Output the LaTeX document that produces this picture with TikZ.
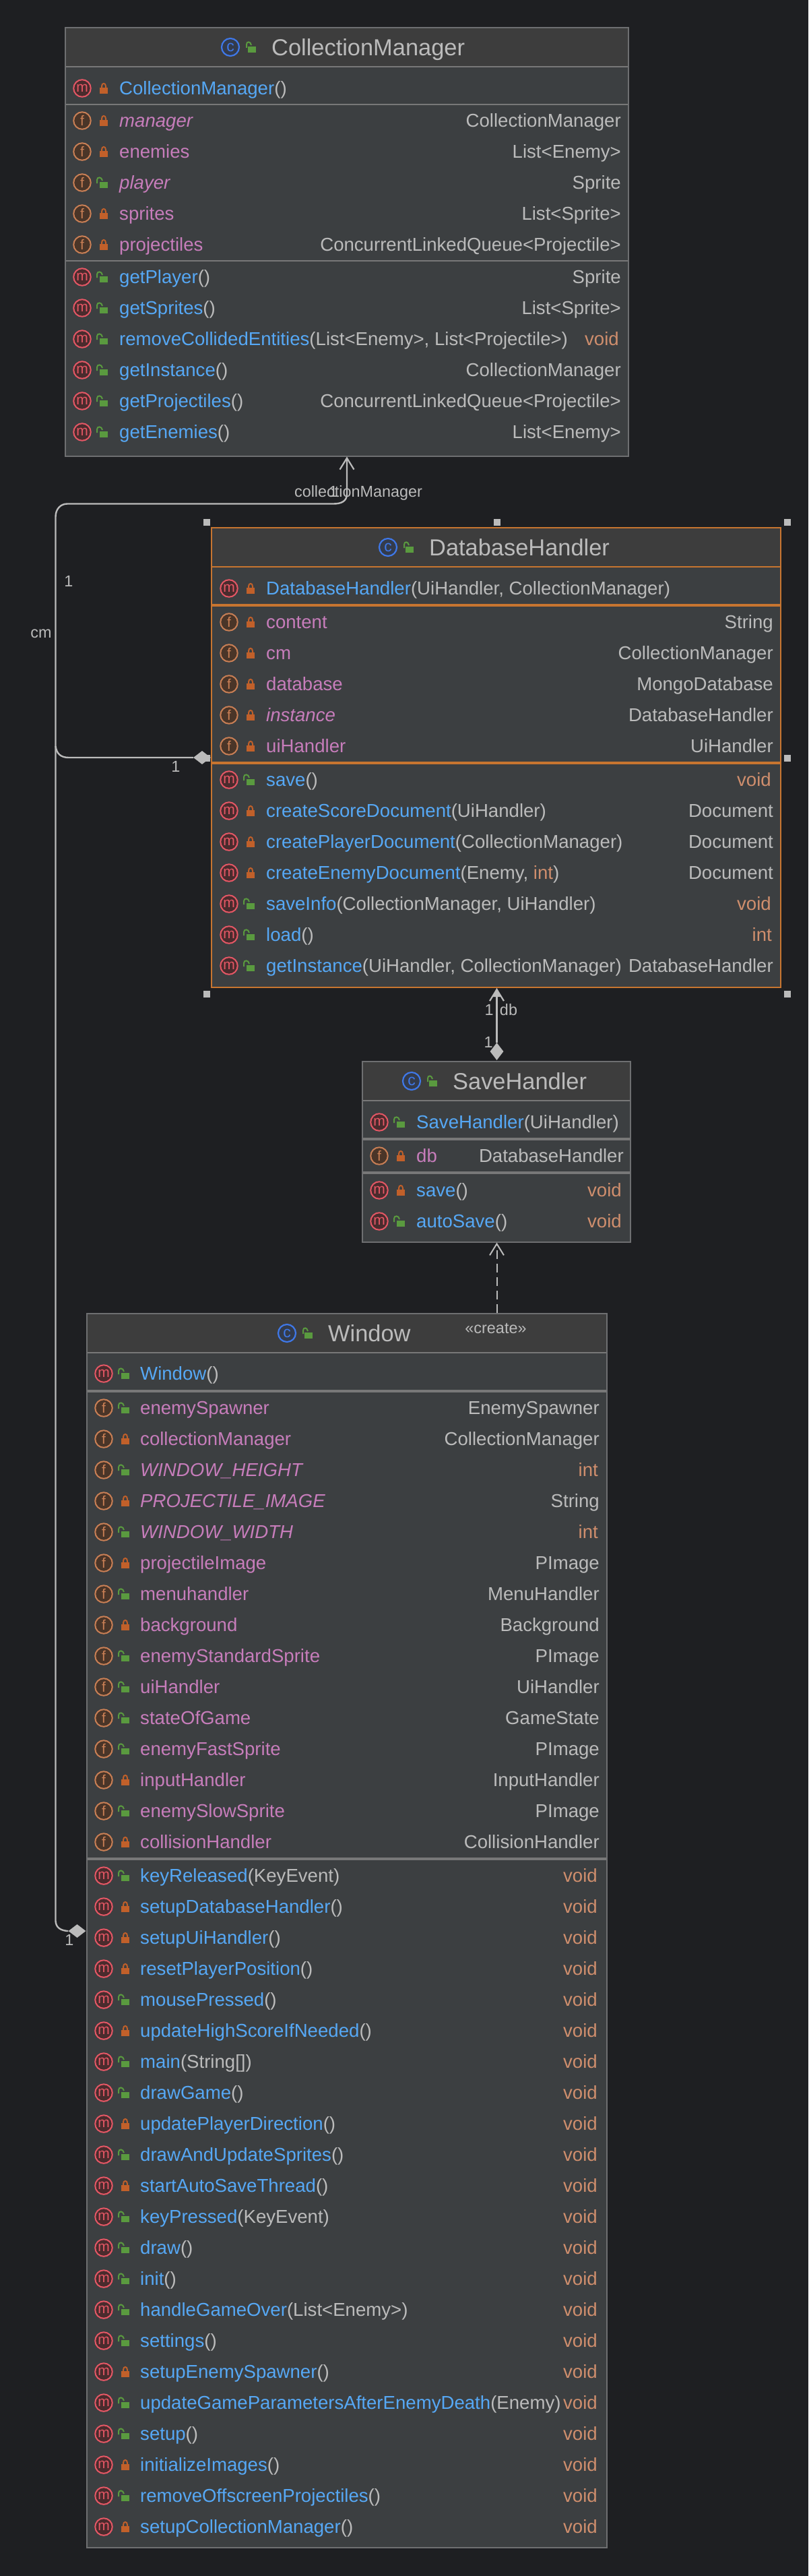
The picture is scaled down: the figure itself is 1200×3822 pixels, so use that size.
\documentclass[tikz,border=0pt]{standalone}
\usepackage{fontspec}
\setmainfont{Liberation Sans}
\usetikzlibrary{arrows.meta,shapes.geometric}
\definecolor{bgc}{HTML}{1E1F22}
\definecolor{bodyc}{HTML}{3C3F41}
\definecolor{hdrc}{HTML}{3D3D3D}
\definecolor{edgec}{HTML}{6E6F71}
\definecolor{sepc}{HTML}{787878}
\definecolor{selc}{HTML}{C77530}
\definecolor{txtc}{HTML}{BBBBBB}
\definecolor{methc}{HTML}{56A8F5}
\definecolor{fieldc}{HTML}{C77DBB}
\definecolor{voidc}{HTML}{CF8E6D}
\definecolor{lockoc}{HTML}{C1602A}
\definecolor{lockgc}{HTML}{5A9A3F}
\definecolor{mred}{HTML}{E55765}
\definecolor{mredbg}{HTML}{4A2B2D}
\definecolor{ford}{HTML}{C97F55}
\definecolor{fordbg}{HTML}{4A3528}
\definecolor{cblue}{HTML}{3F78E8}
\definecolor{cbluebg}{HTML}{333B4C}
\newcommand\rfont{\fontsize{27.6pt}{30pt}\selectfont}
\newcommand\tfont{\fontsize{34.4pt}{38pt}\selectfont}
\newcommand\lfont{\fontsize{23.4pt}{26pt}\selectfont}
\tikzset{
  x=1pt,y=-1pt,
  classbox/.style={rectangle,draw=edgec,fill=bodyc,line width=1.6pt,inner sep=0pt,outer sep=0pt,anchor=north west},
  selbox/.style={classbox,draw=selc},
  hdrbox/.style={rectangle,fill=hdrc,inner sep=0pt,outer sep=0pt,anchor=north west},
  micon/.style={circle,draw=mred,fill=mredbg,line width=2pt,minimum size=25.5pt,inner sep=0pt,text=mred,font=\fontsize{21pt}{22pt}\selectfont},
  ficon/.style={circle,draw=ford,fill=fordbg,line width=2pt,minimum size=25.5pt,inner sep=0pt,text=ford,font=\fontsize{21pt}{22pt}\selectfont},
  cicon/.style={circle,draw=cblue,fill=cbluebg,line width=2.2pt,minimum size=26pt,inner sep=0pt,text=cblue,font=\fontsize{23pt}{24pt}\selectfont},
  ltext/.style={anchor=base west,inner sep=0pt,text=txtc,font=\rfont},
  rtext/.style={anchor=base east,inner sep=0pt,text=txtc,font=\rfont},
  ttext/.style={anchor=base west,inner sep=0pt,text=txtc,font=\tfont},
  lab/.style={inner sep=0pt,text=txtc,font=\lfont},
  conn/.style={draw=txtc,line width=2.4pt},
  barb/.style={-{Straight Barb[length=17pt,width=21pt,line width=2.2pt]}},
  handle/.style={rectangle,fill=txtc,minimum size=10pt,inner sep=0pt},
  dia/.style={diamond,fill=txtc,inner sep=0pt},
}
\newcount\rowno
\def\iconx{0}\def\textx{0}\def\rightx{0}
\newcommand\setcols[3]{\def\iconx{#1}\def\textx{#2}\def\rightx{#3}}
\newcommand\lockpic[3]{% x of icon, row y, kind
  \ifx#3o%
    \fill[lockoc] ({#1+26},{#2-1}) rectangle ({#1+38},{#2+8});
    \draw[lockoc,line width=2pt] ({#1+29},{#2}) -- ({#1+29},{#2-3}) .. controls ({#1+29},{#2-8.5}) and ({#1+35},{#2-8.5}) .. ({#1+35},{#2-3}) -- ({#1+35},{#2});
  \else
    \fill[lockgc] ({#1+26},{#2-1}) rectangle ({#1+38},{#2+8});
    \draw[lockgc,line width=2pt] ({#1+22},{#2+1}) -- ({#1+22},{#2-4}) .. controls ({#1+22},{#2-9}) and ({#1+29},{#2-9}) .. ({#1+30},{#2-3});
  \fi}
\newcommand\R[5]{% y, kind m/f, vis o/g, left, right
  \global\advance\rowno by 1
  \node[#2icon] (ic\the\rowno) at (\iconx,#1) {#2};
  \lockpic{\iconx}{#1}{#3}
  \node[ltext] (lt\the\rowno) at (\textx,{#1+9.5}) {#4};
  \node[rtext] (rt\the\rowno) at (\rightx,{#1+9.5}) {#5};}
\newcommand\sepl[4]{\draw[#4] (#1,#3) -- (#2,#3);}
\newcommand\titl[4]{% name, x of C, y, vis (all public)
  \global\advance\rowno by 1
  \node[cicon] (tc\the\rowno) at (#2,#3) {c};
  \fill[lockgc] ({#2+26},{#3-1}) rectangle ({#2+38},{#3+8});
  \draw[lockgc,line width=2pt] ({#2+24},{#3+1}) -- ({#2+24},{#3-4}) .. controls ({#2+24},{#3-9}) and ({#2+30},{#3-9}) .. ({#2+31},{#3-3});
  \node[ttext] (tt\the\rowno) at ({#2+61},{#3+12}) {#1};}
\newcommand\M[2]{\textcolor{methc}{#1}(#2)}
\newcommand\F[1]{\textcolor{fieldc}{#1}}
\newcommand\FI[1]{\textcolor{fieldc}{\itshape #1}}
\newcommand\vd{\textcolor{voidc}{void}\kern3pt}
\newcommand\intc{\textcolor{voidc}{int}}
\begin{document}
\begin{tikzpicture}
\useasboundingbox (0,0) rectangle (1200,3822);
\fill[bgc] (0,0) rectangle (1200,3822);

% ---------- CollectionManager
\node[classbox,minimum width=836pt,minimum height=636pt] (cmBox) at (97,41) {};
\node[hdrbox,minimum width=834pt,minimum height=57pt] (cmHdr) at (98,42) {};
\sepl{98}{932}{99}{draw=sepc,line width=2pt}
\sepl{98}{932}{155}{draw=sepc,line width=2pt}
\sepl{98}{932}{387}{draw=sepc,line width=2pt}
\titl{CollectionManager}{342}{70}{g}
\setcols{122}{177}{922}
\R{131}{m}{o}{\M{CollectionManager}{}}{}
\R{179}{f}{o}{\FI{manager}}{CollectionManager}
\R{225}{f}{o}{\F{enemies}}{List<Enemy>}
\R{271}{f}{g}{\FI{player}}{Sprite}
\R{317}{f}{o}{\F{sprites}}{List<Sprite>}
\R{363}{f}{o}{\F{projectiles}}{ConcurrentLinkedQueue<Projectile>}
\R{411}{m}{g}{\M{getPlayer}{}}{Sprite}
\R{457}{m}{g}{\M{getSprites}{}}{List<Sprite>}
\R{503}{m}{g}{\M{removeCollidedEntities}{List<Enemy>, List<Projectile>}}{\vd}
\R{549}{m}{g}{\M{getInstance}{}}{CollectionManager}
\R{595}{m}{g}{\M{getProjectiles}{}}{ConcurrentLinkedQueue<Projectile>}
\R{641}{m}{g}{\M{getEnemies}{}}{List<Enemy>}

% ---------- DatabaseHandler
\node[selbox,minimum width=845pt,minimum height=682pt] (dbBox) at (314,783) {};
\node[hdrbox,minimum width=843pt,minimum height=57pt] (dbHdr) at (315,784) {};
\sepl{315}{1158}{841}{draw=selc,line width=2pt}
\sepl{315}{1158}{898}{draw=selc,line width=3.5pt}
\sepl{315}{1158}{1132}{draw=selc,line width=3.5pt}
\titl{DatabaseHandler}{576}{812}{g}
\setcols{340}{395}{1148}
\R{873}{m}{o}{\M{DatabaseHandler}{UiHandler, CollectionManager}}{}
\R{923}{f}{o}{\F{content}}{String}
\R{969}{f}{o}{\F{cm}}{CollectionManager}
\R{1015}{f}{o}{\F{database}}{MongoDatabase}
\R{1061}{f}{o}{\FI{instance}}{DatabaseHandler}
\R{1107}{f}{o}{\F{uiHandler}}{UiHandler}
\R{1157}{m}{g}{\M{save}{}}{\vd}
\R{1203}{m}{o}{\M{createScoreDocument}{UiHandler}}{Document}
\R{1249}{m}{o}{\M{createPlayerDocument}{CollectionManager}}{Document}
\R{1295}{m}{o}{\M{createEnemyDocument}{Enemy, \intc}}{Document}
\R{1341}{m}{g}{\M{saveInfo}{CollectionManager, UiHandler}}{\vd}
\R{1387}{m}{g}{\M{load}{}}{\intc\kern2pt}
\R{1433}{m}{g}{\M{getInstance}{UiHandler, CollectionManager}}{DatabaseHandler}

% ---------- SaveHandler
\node[classbox,minimum width=398pt,minimum height=268pt] (shBox) at (538,1575) {};
\node[hdrbox,minimum width=396pt,minimum height=57pt] (shHdr) at (539,1576) {};
\sepl{539}{935}{1633}{draw=sepc,line width=2pt}
\sepl{539}{935}{1690}{draw=sepc,line width=3.5pt}
\sepl{539}{935}{1740}{draw=sepc,line width=3.5pt}
\titl{SaveHandler}{611}{1604}{g}
\setcols{563}{618}{926}
\R{1665}{m}{g}{\M{SaveHandler}{UiHandler}}{}
\R{1715}{f}{o}{\F{db}}{DatabaseHandler}
\R{1766}{m}{o}{\M{save}{}}{\vd}
\R{1812}{m}{g}{\M{autoSave}{}}{\vd}

% ---------- Window
\node[classbox,minimum width=772pt,minimum height=1831pt] (wnBox) at (129,1949) {};
\node[hdrbox,minimum width=770pt,minimum height=57pt] (wnHdr) at (130,1950) {};
\sepl{130}{900}{2007}{draw=sepc,line width=2pt}
\sepl{130}{900}{2064}{draw=sepc,line width=3.5pt}
\sepl{130}{900}{2758}{draw=sepc,line width=3.5pt}
\titl{Window}{426}{1978}{g}
\setcols{154}{208}{890}
\R{2038}{m}{g}{\M{Window}{}}{}
\R{2089}{f}{g}{\F{enemySpawner}}{EnemySpawner}
\R{2135}{f}{o}{\F{collectionManager}}{CollectionManager}
\R{2181}{f}{g}{\FI{WINDOW\_HEIGHT}}{\intc\kern2pt}
\R{2227}{f}{o}{\FI{PROJECTILE\_IMAGE}}{String}
\R{2273}{f}{g}{\FI{WINDOW\_WIDTH}}{\intc\kern2pt}
\R{2319}{f}{o}{\F{projectileImage}}{PImage}
\R{2365}{f}{g}{\F{menuhandler}}{MenuHandler}
\R{2411}{f}{o}{\F{background}}{Background}
\R{2457}{f}{g}{\F{enemyStandardSprite}}{PImage}
\R{2503}{f}{g}{\F{uiHandler}}{UiHandler}
\R{2549}{f}{g}{\F{stateOfGame}}{GameState}
\R{2595}{f}{g}{\F{enemyFastSprite}}{PImage}
\R{2641}{f}{o}{\F{inputHandler}}{InputHandler}
\R{2687}{f}{g}{\F{enemySlowSprite}}{PImage}
\R{2733}{f}{o}{\F{collisionHandler}}{CollisionHandler}
\R{2783}{m}{g}{\M{keyReleased}{KeyEvent}}{\vd}
\R{2829}{m}{o}{\M{setupDatabaseHandler}{}}{\vd}
\R{2875}{m}{o}{\M{setupUiHandler}{}}{\vd}
\R{2921}{m}{o}{\M{resetPlayerPosition}{}}{\vd}
\R{2967}{m}{g}{\M{mousePressed}{}}{\vd}
\R{3013}{m}{o}{\M{updateHighScoreIfNeeded}{}}{\vd}
\R{3059}{m}{g}{\M{main}{String[]}}{\vd}
\R{3105}{m}{g}{\M{drawGame}{}}{\vd}
\R{3151}{m}{o}{\M{updatePlayerDirection}{}}{\vd}
\R{3197}{m}{g}{\M{drawAndUpdateSprites}{}}{\vd}
\R{3243}{m}{o}{\M{startAutoSaveThread}{}}{\vd}
\R{3289}{m}{g}{\M{keyPressed}{KeyEvent}}{\vd}
\R{3335}{m}{g}{\M{draw}{}}{\vd}
\R{3381}{m}{g}{\M{init}{}}{\vd}
\R{3427}{m}{g}{\M{handleGameOver}{List<Enemy>}}{\vd}
\R{3473}{m}{g}{\M{settings}{}}{\vd}
\R{3519}{m}{o}{\M{setupEnemySpawner}{}}{\vd}
\R{3565}{m}{g}{\M{updateGameParametersAfterEnemyDeath}{Enemy}}{\vd}
\R{3611}{m}{g}{\M{setup}{}}{\vd}
\R{3657}{m}{o}{\M{initializeImages}{}}{\vd}
\R{3703}{m}{g}{\M{removeOffscreenProjectiles}{}}{\vd}
\R{3749}{m}{o}{\M{setupCollectionManager}{}}{\vd}

% ---------- selection handles
\node[handle] (hTL) at (307,775) {};
\node[handle] (hTM) at (738,775) {};
\node[handle] (hTR) at (1169,775) {};
\node[handle] (hML) at (307,1125) {};
\node[handle] (hMR) at (1169,1125) {};
\node[handle] (hBL) at (307,1475) {};
\node[handle] (hBR) at (1169,1475) {};

% ---------- connector end points
\coordinate (cmIn) at (515,677.5);
\coordinate (topD) at (515,733);
\coordinate (topC) at (495,747.5);
\coordinate (topB) at (100,747.5);
\coordinate (topA) at (82.5,767);
\coordinate (dbB) at (82.5,1107);
\coordinate (dbA) at (102,1124);
\coordinate (wnB) at (82.5,2850);
\coordinate (wnA) at (100,2865);
\coordinate (dbIn) at (737.5,1466);
\coordinate (shIn) at (737.5,1843.5);
\coordinate (wnOut) at (737.5,1948);

% ---------- diamonds
\node[dia,minimum width=26pt,minimum height=20pt] (dbDia) at (300,1124) {};
\node[dia,minimum width=26pt,minimum height=20pt] (wnDia) at (114.5,2865) {};
\node[dia,minimum width=20pt,minimum height=26pt] (shDia) at (737.5,1560) {};

% ---------- connectors
\draw[conn,barb] (dbDia.west) -- (dbA) .. controls (90,1124) and (84,1118) .. (dbB) -- (topA) .. controls (82.5,755) and (90,747.5) .. (topB) -- (topC) .. controls (506,747.5) and (515,744) .. (topD) -- (cmIn);
\draw[conn] (wnDia.west) -- (wnA) .. controls (90,2864) and (83,2860) .. (wnB) -- (dbB);
\draw[conn,barb] (shDia.north) -- (dbIn);
\fill[txtc] (dbIn) -- (731,1479) -- (744,1479) -- cycle;
\draw[draw=txtc,line width=2pt,dash pattern=on 13pt off 7pt,-{Straight Barb[length=17pt,width=21pt,line width=2pt]}] (wnOut) -- (shIn);

% ---------- labels
\node[lab,anchor=base] (lcm) at (532,737) {collectionManager};
\node[lab,anchor=base] (l1a) at (495,737) {1};
\node[lab] (l1b) at (102,862) {1};
\node[lab,anchor=base] (lcmb) at (61,946) {cm};
\node[lab] (l1c) at (261,1137) {1};
\node[lab] (l1d) at (103,2878) {1};
\node[lab] (l1e) at (726,1498) {1};
\node[lab] (ldb) at (755,1498) {db};
\node[lab] (l1f) at (725,1546) {1};
\node[lab,anchor=base] (lcr) at (736,1978) {«create»};
\end{tikzpicture}
\end{document}
